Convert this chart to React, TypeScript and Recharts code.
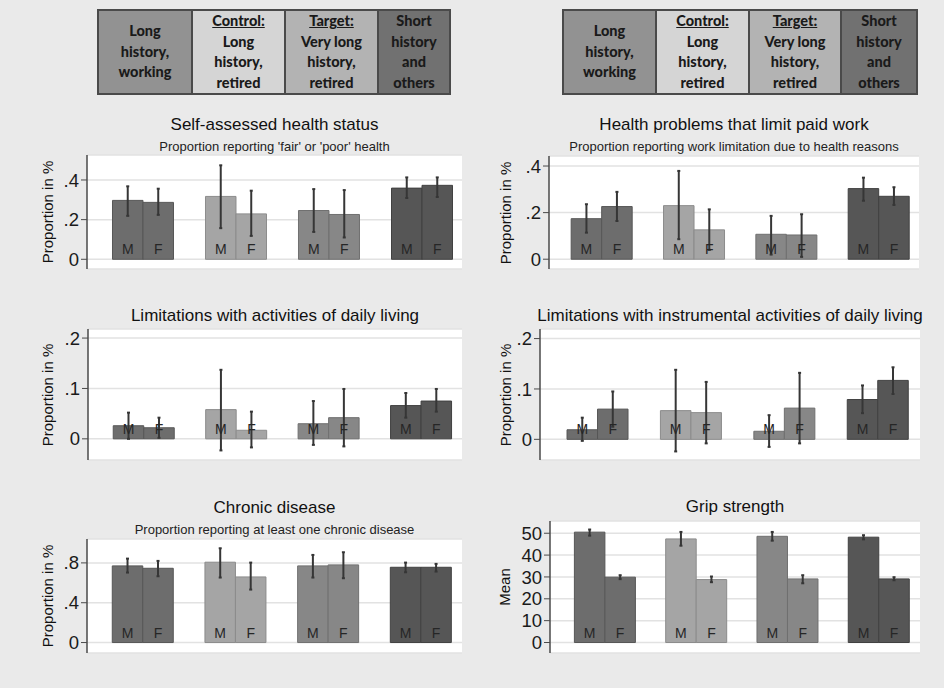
import React from "react";
import {
  Bar,
  BarChart,
  CartesianGrid,
  Cell,
  ErrorBar,
  LabelList,
  XAxis,
  YAxis,
} from "recharts";

// four employment-history groups, drawn left to right in every panel
const groupX = [1, 2, 3, 4];
const barFill = ["#6d6d6d", "#a5a5a5", "#878787", "#565656"];
const barStroke = ["#575757", "#8c8c8c", "#707070", "#414141"];

const legendLines = [
  ["Long", "history,", "working"],
  ["Control:", "Long", "history,", "retired"],
  ["Target:", "Very long", "history,", "retired"],
  ["Short", "history", "and", "others"],
];
const legendFill = ["#929292", "#d5d5d5", "#b3b3b3", "#717171"];

// Self-assessed health status
const sahM = [0.297, 0.317, 0.246, 0.359];
const sahMLow = [0.219, 0.157, 0.138, 0.309];
const sahMHigh = [0.368, 0.474, 0.354, 0.413];
const sahF = [0.287, 0.229, 0.226, 0.373];
const sahFLow = [0.224, 0.118, 0.11, 0.314];
const sahFHigh = [0.356, 0.346, 0.349, 0.413];

// Health problems that limit paid work
const workM = [0.174, 0.23, 0.107, 0.303];
const workMLow = [0.114, 0.086, 0.02, 0.251];
const workMHigh = [0.236, 0.379, 0.186, 0.35];
const workF = [0.226, 0.126, 0.104, 0.27];
const workFLow = [0.164, 0.04, 0.01, 0.233];
const workFHigh = [0.289, 0.214, 0.193, 0.309];

// ADL
const adlM = [0.026, 0.058, 0.03, 0.066];
const adlMLow = [0.0, -0.023, -0.012, 0.042];
const adlMHigh = [0.052, 0.137, 0.075, 0.091];
const adlF = [0.022, 0.017, 0.042, 0.075];
const adlFLow = [0.002, -0.017, -0.015, 0.054];
const adlFHigh = [0.042, 0.054, 0.099, 0.099];

// IADL
const iadlM = [0.019, 0.057, 0.016, 0.079];
const iadlMLow = [-0.003, -0.024, -0.015, 0.052];
const iadlMHigh = [0.043, 0.138, 0.048, 0.107];
const iadlF = [0.06, 0.053, 0.062, 0.117];
const iadlFLow = [0.025, -0.008, -0.008, 0.09];
const iadlFHigh = [0.095, 0.114, 0.132, 0.143];

// Chronic disease
const chronM = [0.77, 0.807, 0.77, 0.756];
const chronMLow = [0.703, 0.653, 0.653, 0.706];
const chronMHigh = [0.843, 0.947, 0.88, 0.803];
const chronF = [0.746, 0.659, 0.78, 0.756];
const chronFLow = [0.666, 0.532, 0.646, 0.713];
const chronFHigh = [0.82, 0.803, 0.907, 0.79];

// Grip strength
const gripM = [50.5, 47.4, 48.6, 48.2];
const gripMLow = [48.9, 44.3, 46.6, 47.2];
const gripMHigh = [51.7, 50.6, 50.6, 49.1];
const gripF = [29.9, 28.8, 29.1, 29.1];
const gripFLow = [29.0, 27.6, 27.1, 28.5];
const gripFHigh = [30.8, 30.2, 30.8, 29.9];

const makeRows = (
  m: number[], mLo: number[], mHi: number[],
  f: number[], fLo: number[], fHi: number[]
) =>
  groupX.map((x, i) => ({
    x,
    m: m[i],
    f: f[i],
    mErr: [m[i] - mLo[i], mHi[i] - m[i]],
    fErr: [f[i] - fLo[i], fHi[i] - f[i]],
  }));

const propFmt = (v: number) => (v === 0 ? "0" : String(v).replace(/^0/, ""));
const intFmt = (v: number) => String(v);

const panels = [
  {
    title: "Self-assessed health status",
    subtitle: "Proportion reporting 'fair' or 'poor' health",
    titleY: 125, subY: 147, yLabel: "Proportion in %", yLabelX: 47,
    left: 87, top: 155, w: 375, h: 114,
    yDomain: [-0.049, 0.526], xDomain: [0.398, 4.43], ticks: [0, 0.2, 0.4],
    fmt: propFmt, rows: makeRows(sahM, sahMLow, sahMHigh, sahF, sahFLow, sahFHigh),
  },
  {
    title: "Health problems that limit paid work",
    subtitle: "Proportion reporting work limitation due to health reasons",
    titleY: 125, subY: 147, yLabel: "Proportion in %", yLabelX: 505,
    left: 549, top: 156, w: 370, h: 113,
    yDomain: [-0.042, 0.443], xDomain: [0.433, 4.44], ticks: [0, 0.2, 0.4],
    fmt: propFmt, rows: makeRows(workM, workMLow, workMHigh, workF, workFLow, workFHigh),
  },
  {
    title: "Limitations with activities of daily living",
    subtitle: "",
    titleY: 316, subY: 0, yLabel: "Proportion in %", yLabelX: 47,
    left: 88, top: 329, w: 374, h: 131,
    yDomain: [-0.042, 0.218], xDomain: [0.4, 4.446], ticks: [0, 0.1, 0.2],
    fmt: propFmt, rows: makeRows(adlM, adlMLow, adlMHigh, adlF, adlFLow, adlFHigh),
  },
  {
    title: "Limitations with instrumental activities of daily living",
    subtitle: "",
    titleY: 316, subY: 0, yLabel: "Proportion in %", yLabelX: 505,
    left: 540, top: 329, w: 380, h: 131,
    yDomain: [-0.041, 0.219], xDomain: [0.382, 4.45], ticks: [0, 0.1, 0.2],
    fmt: propFmt, rows: makeRows(iadlM, iadlMLow, iadlMHigh, iadlF, iadlFLow, iadlFHigh),
  },
  {
    title: "Chronic disease",
    subtitle: "Proportion reporting at least one chronic disease",
    titleY: 508, subY: 530, yLabel: "Proportion in %", yLabelX: 47,
    left: 87, top: 539, w: 375, h: 114,
    yDomain: [-0.105, 1.04], xDomain: [0.4, 4.446], ticks: [0, 0.4, 0.8],
    fmt: propFmt, rows: makeRows(chronM, chronMLow, chronMHigh, chronF, chronFLow, chronFHigh),
  },
  {
    title: "Grip strength",
    subtitle: "",
    titleY: 507, subY: 0, yLabel: "Mean", yLabelX: 504,
    left: 550, top: 521, w: 370, h: 132,
    yDomain: [-4.8, 55.6], xDomain: [0.397, 4.45], ticks: [0, 10, 20, 30, 40, 50],
    fmt: intFmt, rows: makeRows(gripM, gripMLow, gripMHigh, gripF, gripFLow, gripFHigh),
  },
];

const sexLabel = (txt: string) => (props: any) => {
  const { x, y, width, height } = props;
  const base = y + height;
  return (
    <text x={x + width / 2} y={base - 5} textAnchor="middle" fontSize={14} fill="#262626">
      {txt}
    </text>
  );
};

const Legend = ({ left, widths }: { left: number; widths: number[] }) => (
  <div
    style={{
      position: "absolute", left, top: 9, height: 86, display: "flex",
      border: "2px solid #4a4a4a", boxSizing: "border-box",
      fontFamily: "Lato, 'Open Sans', sans-serif", fontWeight: 900,
      fontSize: 14.5, lineHeight: "20.5px", color: "#1a1a1a",
    }}
  >
    {legendLines.map((lines, i) => (
      <div
        key={i}
        style={{
          width: widths[i], background: legendFill[i], display: "flex",
          flexDirection: "column", justifyContent: "center", alignItems: "center",
          borderLeft: i > 0 ? "2px solid #4a4a4a" : "none", boxSizing: "border-box",
        }}
      >
        {lines.map((l, j) => (
          <span key={j} style={{ textDecoration: j === 0 && (i === 1 || i === 2) ? "underline" : "none" }}>
            {l}
          </span>
        ))}
      </div>
    ))}
  </div>
);

const Panel = ({ p }: { p: (typeof panels)[number] }) => {
  const axisW = 60;
  return (
    <>
      <div style={{ position: "absolute", left: p.left - 150, width: p.w + 300, top: p.titleY - 10, textAlign: "center", fontSize: 17, lineHeight: "20px", color: "#111" }}>
        {p.title}
      </div>
      {p.subtitle && (
        <div style={{ position: "absolute", left: p.left - 150, width: p.w + 300, top: p.subY - 8, textAlign: "center", fontSize: 13, lineHeight: "16px", color: "#222", fontFamily: "'Liberation Sans Narrow', 'Liberation Sans', sans-serif" }}>
          {p.subtitle}
        </div>
      )}
      <div style={{ position: "absolute", left: p.yLabelX, top: p.top + p.h / 2, transform: "translate(-50%, -50%) rotate(-90deg)", whiteSpace: "nowrap", fontSize: 15, color: "#111" }}>
        {p.yLabel}
      </div>
      <div style={{ position: "absolute", left: p.left - axisW, top: p.top - 6 }}>
        <BarChart width={p.w + axisW + 6} height={p.h + 12} data={p.rows} margin={{ top: 6, right: 6, bottom: 6, left: 0 }} barGap={0}>
          <CartesianGrid vertical={false} fill="#ffffff" stroke="#e2e2e2" strokeWidth={1.5} />
          <XAxis type="number" dataKey="x" domain={p.xDomain} ticks={groupX} tick={false} tickLine={false} height={0} allowDataOverflow axisLine={{ stroke: "#4a4a4a", strokeWidth: 1.5 }} />
          <YAxis type="number" domain={p.yDomain} ticks={p.ticks} tickFormatter={p.fmt} allowDataOverflow width={axisW} interval={0}
            tick={{ fontSize: 18.5, fill: "#1a1a1a" }} tickSize={6} tickLine={{ stroke: "#4a4a4a" }} axisLine={{ stroke: "#4a4a4a", strokeWidth: 1.5 }} />
          <Bar dataKey="m" barSize={30.5} isAnimationActive={false}>
            {p.rows.map((r, i) => (
              <Cell key={i} fill={barFill[i]} stroke={barStroke[i]} />
            ))}
            <ErrorBar dataKey="mErr" width={1.5} stroke="#363636" strokeWidth={2} direction="y" />
            <LabelList dataKey="x" content={sexLabel("M")} />
          </Bar>
          <Bar dataKey="f" barSize={30.5} isAnimationActive={false}>
            {p.rows.map((r, i) => (
              <Cell key={i} fill={barFill[i]} stroke={barStroke[i]} />
            ))}
            <ErrorBar dataKey="fErr" width={1.5} stroke="#363636" strokeWidth={2} direction="y" />
            <LabelList dataKey="x" content={sexLabel("F")} />
          </Bar>
        </BarChart>
      </div>
    </>
  );
};

export default function App() {
  return (
    <div style={{ position: "fixed", left: 0, top: 0, width: 944, height: 688, background: "#eaeaea", fontFamily: "'Liberation Sans', Arial, sans-serif", overflow: "hidden" }}>
      <Legend left={97} widths={[92, 93, 93, 72]} />
      <Legend left={562} widths={[91, 93, 92, 76]} />
      {panels.map((p, i) => (
        <Panel key={i} p={p} />
      ))}
    </div>
  );
}
